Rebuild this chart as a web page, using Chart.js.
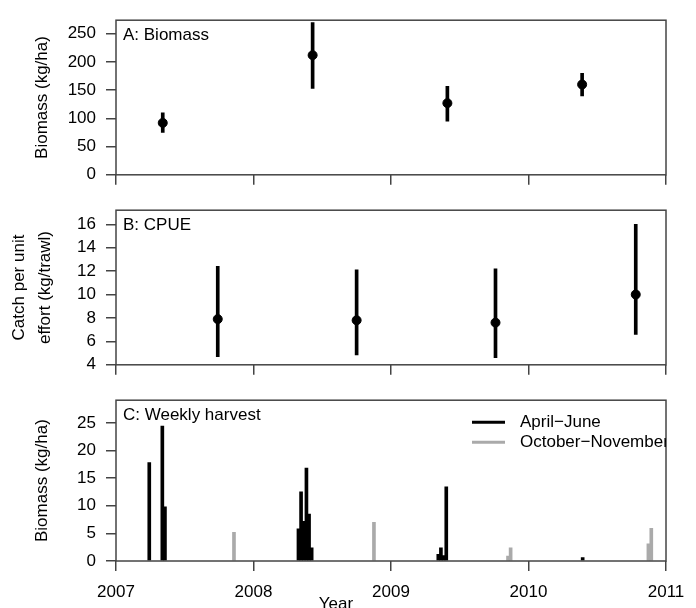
<!DOCTYPE html>
<html>
<head>
<meta charset="utf-8">
<script src="https://cdn.jsdelivr.net/npm/chart.js@4.4.1/dist/chart.umd.min.js"></script>
<style>
body { margin: 0; background: #fff; }
#wrap { position: relative; width: 696px; height: 608px; overflow: hidden; }
canvas { position: absolute; left: 0; }
</style>
</head>
<body>
<div id="wrap">
<canvas id="chartA" width="696" height="195" style="top:0px"></canvas>
<canvas id="chartB" width="696" height="195" style="top:190px"></canvas>
<canvas id="chartC" width="696" height="228" style="top:380px"></canvas>
</div>
<script>
var yearTicks = [2007, 2008, 2009, 2010, 2011];

// A: survey biomass, mean with interval
var biomassYears = [2007.34, 2008.43, 2009.41, 2010.39];
var biomassMean = [92, 212, 127, 160];
var biomassLow = [75, 153, 95, 140];
var biomassHigh = [110, 270, 157, 180];
var biomassTicks = [0, 50, 100, 150, 200, 250];

// B: catch per unit effort
var cpueYears = [2007.74, 2008.75, 2009.76, 2010.78];
var cpueMean = [7.9, 7.8, 7.6, 10.0];
var cpueLow = [4.7, 4.85, 4.6, 6.6];
var cpueHigh = [12.4, 12.1, 12.2, 16.0];
var cpueTicks = [4, 6, 8, 10, 12, 14, 16];

// C: weekly harvest
var springWeeks = [2007.242, 2007.337, 2007.356, 2008.327, 2008.346, 2008.365, 2008.385, 2008.404, 2008.423,
                   2009.344, 2009.363, 2009.382, 2009.402, 2010.394];
var springHarvest = [17.8, 24.4, 9.8, 5.8, 12.5, 7.2, 16.8, 8.5, 2.4, 1.2, 2.4, 1.0, 13.4, 0.6];
var fallWeeks = [2007.858, 2008.876, 2009.851, 2009.870, 2010.872, 2010.893];
var fallHarvest = [5.2, 7.0, 0.9, 2.4, 3.1, 5.9];
var harvestTicks = [0, 5, 10, 15, 20, 25];

var FONT = "'Liberation Sans', Arial, Helvetica, sans-serif";
var AXIS = '#444';
var SPRING = '#000000';
var FALL = '#aaaaaa';

function points(xs, ys) {
    return xs.map(function (x, i) { return {x: x, y: ys[i]}; });
}

function ranges(xs, lo, hi) {
    return xs.map(function (x, i) { return {x: x, y: [lo[i], hi[i]]}; });
}

function fixedTicks(values) {
    return function (scale) {
        scale.ticks = values.map(function (v) { return {value: v}; });
    };
}

// frame around the plot + panel letter
var boxPlugin = {
    id: 'box',
    afterDraw: function (chart, args, opts) {
        var a = chart.chartArea, ctx = chart.ctx;
        ctx.save();
        ctx.strokeStyle = AXIS;
        ctx.lineWidth = 1.5;
        ctx.strokeRect(a.left, a.top, a.right - a.left, a.bottom - a.top);
        ctx.fillStyle = '#000';
        ctx.font = '17px ' + FONT;
        ctx.textBaseline = 'middle';
        ctx.fillText(opts.label, a.left + 7, a.top + 15);
        ctx.restore();
    }
};

// line legend inside panel C (clipped by the frame like the original) + "Year"
var harvestLegend = {
    id: 'harvestLegend',
    afterDraw: function (chart) {
        var a = chart.chartArea, ctx = chart.ctx;
        var sets = chart.data.datasets;
        ctx.save();
        ctx.beginPath();
        ctx.rect(a.left, a.top, a.right - a.left, a.bottom - a.top);
        ctx.clip();
        ctx.font = '17px ' + FONT;
        ctx.textBaseline = 'middle';
        sets.forEach(function (ds, i) {
            var y = a.top + 22 + i * 20;
            ctx.strokeStyle = ds.backgroundColor;
            ctx.lineWidth = 3;
            ctx.beginPath();
            ctx.moveTo(472, y);
            ctx.lineTo(505, y);
            ctx.stroke();
            ctx.fillStyle = '#000';
            ctx.fillText(ds.label, 520, y);
        });
        ctx.restore();
        ctx.save();
        ctx.font = '17px ' + FONT;
        ctx.fillStyle = '#000';
        ctx.textAlign = 'center';
        ctx.textBaseline = 'top';
        ctx.fillText('Year', 336, 216);
        ctx.restore();
    }
};

function makeChart(id, cfg) {
    return new Chart(document.getElementById(id), {
        type: 'scatter',
        data: {datasets: cfg.datasets},
        options: {
            responsive: false,
            animation: false,
            devicePixelRatio: 1,
            layout: {padding: {top: cfg.top, right: 30, left: 0, bottom: 0}},
            plugins: {
                legend: {display: false},
                tooltip: {enabled: false},
                box: {label: cfg.label}
            },
            scales: {
                x: {
                    type: 'linear', min: 2007, max: 2011, offset: false,
                    afterBuildTicks: fixedTicks(yearTicks),
                    afterFit: function (s) { s.height = cfg.xHeight; },
                    grid: {drawOnChartArea: false, drawTicks: true, tickLength: 10, color: AXIS, lineWidth: 1.5, offset: false},
                    border: {display: false},
                    ticks: {
                        display: cfg.xLabels, padding: 11, color: '#000',
                        font: {family: FONT, size: 17},
                        callback: function (v) { return String(v); }
                    }
                },
                y: {
                    type: 'linear', min: cfg.yMin, max: cfg.yMax,
                    afterBuildTicks: fixedTicks(cfg.yTicks),
                    afterFit: function (s) { s.width = 116; },
                    grid: {drawOnChartArea: false, drawTicks: true, tickLength: 10, color: AXIS, lineWidth: 1.5},
                    border: {display: false},
                    ticks: {padding: 10, color: '#000', font: {family: FONT, size: 17}},
                    title: {
                        display: true, text: cfg.yTitle, color: '#000',
                        font: {family: FONT, size: 17, lineHeight: 1.5},
                        padding: {top: cfg.titlePad, bottom: 0}
                    }
                }
            }
        },
        plugins: [boxPlugin].concat(cfg.plugins || [])
    });
}

makeChart('chartA', {
    label: 'A: Biomass', top: 10, xHeight: 16, xLabels: false,
    yMin: 0, yMax: 274, yTicks: biomassTicks, yTitle: 'Biomass (kg/ha)', titlePad: 30,
    datasets: [
        {type: 'scatter', data: points(biomassYears, biomassMean), pointRadius: 4.5,
         backgroundColor: '#000', borderColor: '#000', order: 1},
        {type: 'bar', data: ranges(biomassYears, biomassLow, biomassHigh),
         backgroundColor: '#000', barThickness: 3, skipNull: true, order: 2}
    ]
});

makeChart('chartB', {
    label: 'B: CPUE', top: 10, xHeight: 15, xLabels: false,
    yMin: 4, yMax: 17.2, yTicks: cpueTicks, yTitle: ['Catch per unit', 'effort (kg/trawl)'], titlePad: 7,
    datasets: [
        {type: 'scatter', data: points(cpueYears, cpueMean), pointRadius: 4.5,
         backgroundColor: '#000', borderColor: '#000', order: 1},
        {type: 'bar', data: ranges(cpueYears, cpueLow, cpueHigh),
         backgroundColor: '#000', barThickness: 3, skipNull: true, order: 2}
    ]
});

makeChart('chartC', {
    label: 'C: Weekly harvest', top: 11, xHeight: 47, xLabels: true,
    yMin: 0, yMax: 29.1, yTicks: harvestTicks, yTitle: 'Biomass (kg/ha)', titlePad: 30,
    plugins: [harvestLegend],
    datasets: [
        {type: 'bar', label: 'April\u2212June', data: points(springWeeks, springHarvest),
         backgroundColor: SPRING, barThickness: 3, skipNull: true},
        {type: 'bar', label: 'October\u2212November', data: points(fallWeeks, fallHarvest),
         backgroundColor: FALL, barThickness: 3, skipNull: true}
    ]
});
</script>
</body>
</html>
